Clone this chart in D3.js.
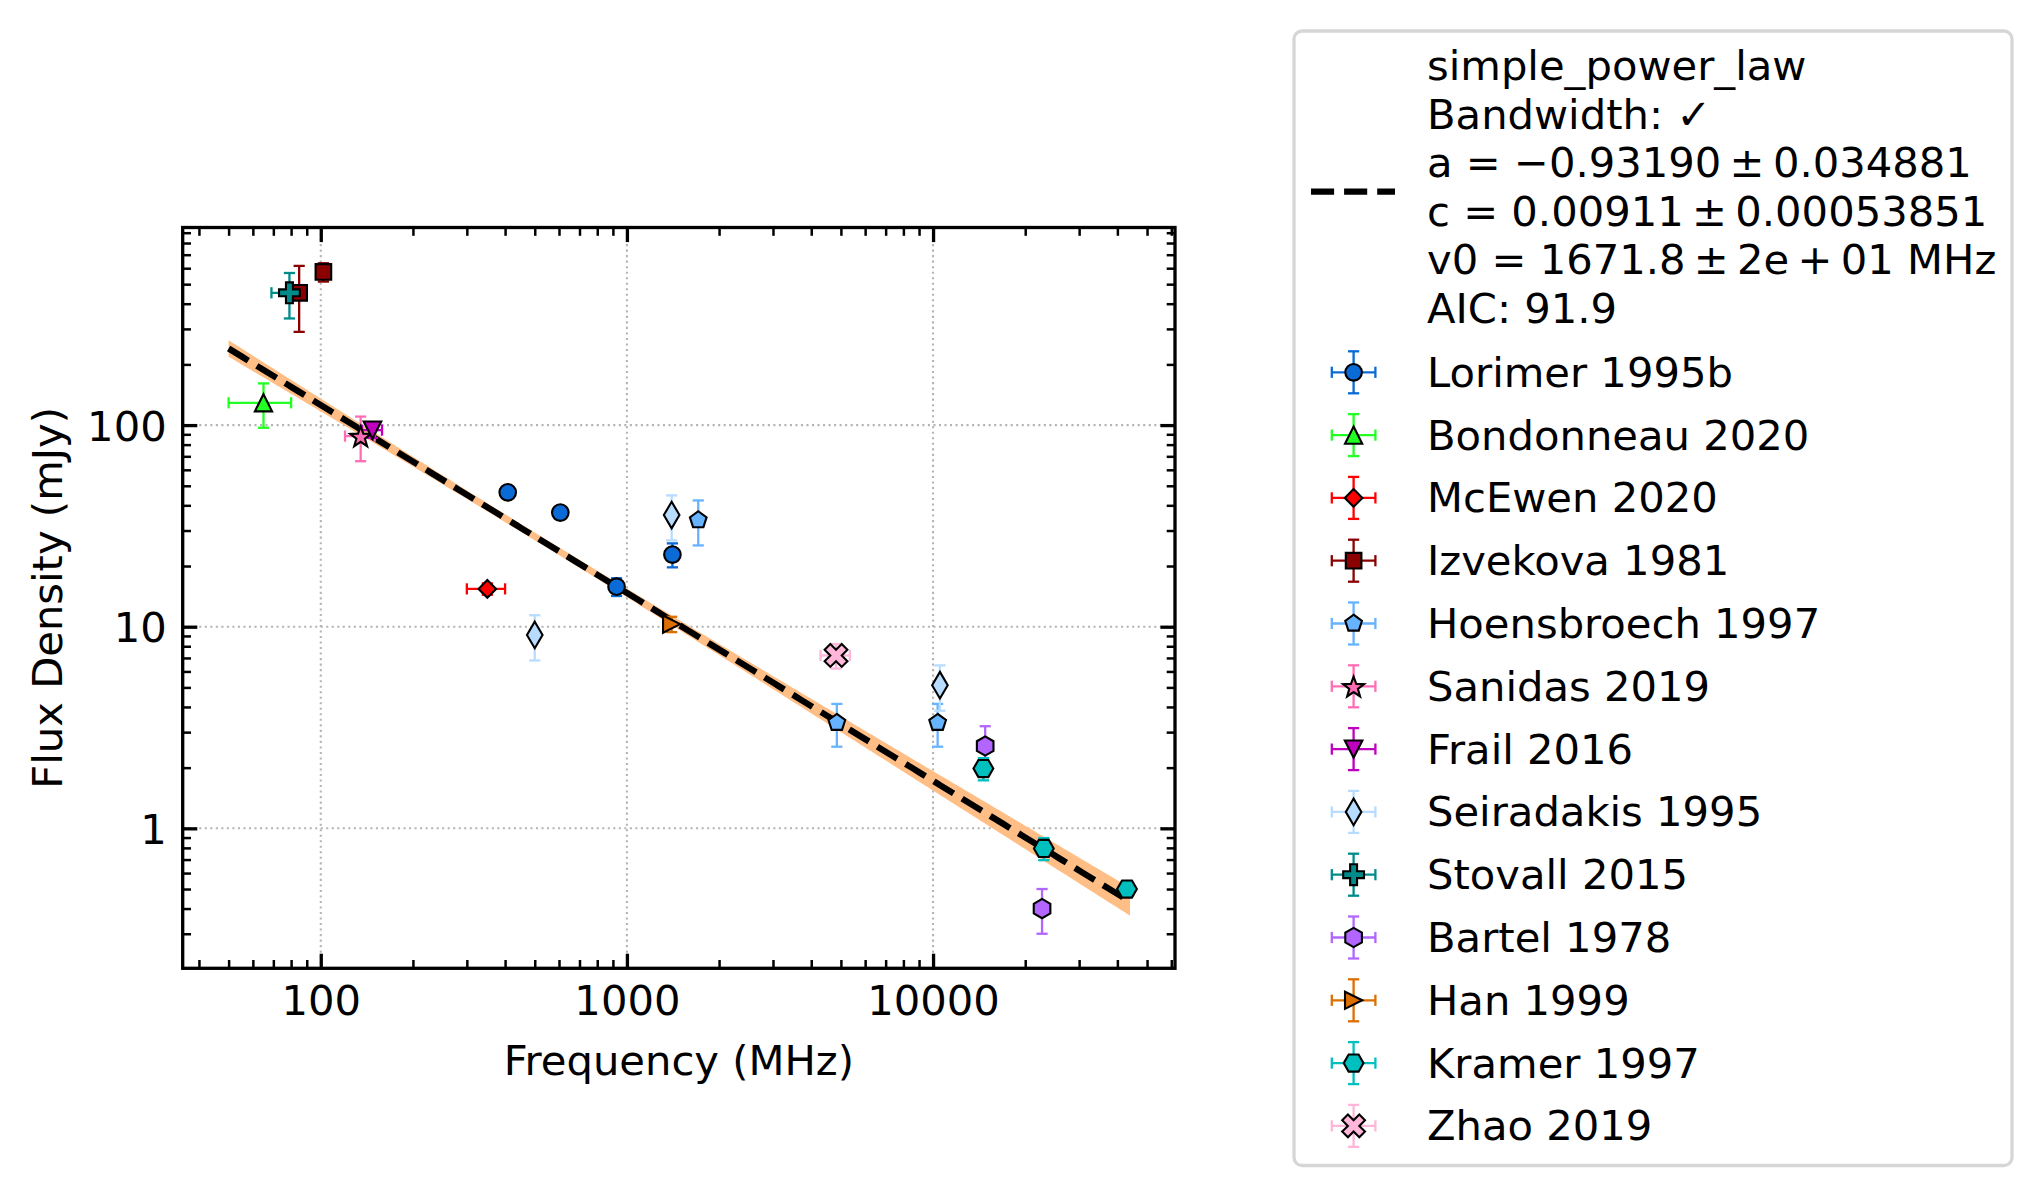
<!DOCTYPE html>
<html>
<head>
<meta charset="utf-8">
<script src="https://cdn.jsdelivr.net/npm/d3@7"></script>
<style>
  body { margin: 0; background: #fff; }
  svg { display: block; font-family: 'DejaVu Sans', sans-serif; }
</style>
</head>
<body>
<svg id="chart" width="2041" height="1196"></svg>
<script>
// each point: [frequency MHz, flux density mJy, half bandwidth MHz, flux error mJy]
const lorimer1995b = [[408, 46.4, 0, 2.4], [606, 36.8, 0, 1.9], [925, 15.8, 0, 1.6], [1408, 22.8, 0, 3.1]];
const bondonneau2020 = [[65, 129, 15, 32]];
const mcewen2020 = [[350, 15.4, 50, 1.0]];
const izvekova1981 = [[85, 453, 0, 163], [102, 575, 0, 60]];
const hoensbroech1997 = [[1710, 33.8, 0, 8.5], [4850, 3.34, 0, 0.8], [10350, 3.34, 0, 0.8]];
const sanidas2019 = [[135, 88.2, 15, 22]];
const frail2016 = [[147.5, 94.4, 11, 8]];
const seiradakis1995 = [[500, 9.1, 0, 2.3], [1400, 35.8, 0, 9], [10530, 5.13, 0, 1.3]];
const stovall2015 = [[79, 453, 10, 115]];
const bartel1978 = [[14800, 2.56, 0, 0.65], [22700, 0.40, 0, 0.1]];
const han1999 = [[1400, 10.3, 0, 0.9]];
const kramer1997 = [[14600, 1.98, 0, 0.25], [23000, 0.795, 0, 0.1], [43000, 0.50, 0, 0.04]];
const zhao2019 = [[4820, 7.2, 530, 1.0]];

const surveyNames = ['Lorimer 1995b', 'Bondonneau 2020', 'McEwen 2020', 'Izvekova 1981',
  'Hoensbroech 1997', 'Sanidas 2019', 'Frail 2016', 'Seiradakis 1995', 'Stovall 2015',
  'Bartel 1978', 'Han 1999', 'Kramer 1997', 'Zhao 2019'];
const surveyData = [lorimer1995b, bondonneau2020, mcewen2020, izvekova1981, hoensbroech1997,
  sanidas2019, frail2016, seiradakis1995, stovall2015, bartel1978, han1999, kramer1997, zhao2019];
const surveyColors = ['#0a6ad6', '#22ff22', '#ff0000', '#8b0000', '#66b3ff', '#ff6eb4', '#bf00bf',
  '#b8dcff', '#008b8b', '#b266ff', '#dd6e00', '#00bfbf', '#ffb6d9'];
const surveyMarkers = ['circle', 'triUp', 'diamond', 'square', 'pentagon', 'star', 'triDown',
  'thinDiamond', 'plus', 'hexV', 'triRight', 'hexF', 'xFilled'];

// simple power law fit (S in Jy, v0 in MHz)
const fitA = -0.9319, fitAErr = 0.034881;
const fitC = 0.00911, fitCErr = 0.00053851;
const fitV0 = 1671.8;
const fitRho = 0.67; // a / c correlation, estimated from the band shape
const fitRange = [50, 44000];
const TS = '\u2009'; // thin space, like mathtext around binary operators
const fitLabel = ['simple_power_law', 'Bandwidth: \u2713',
  'a = \u22120.93190' + TS + '\u00b1' + TS + '0.034881',
  'c = 0.00911' + TS + '\u00b1' + TS + '0.00053851',
  'v0 = 1671.8' + TS + '\u00b1' + TS + '2e' + TS + '+' + TS + '01 MHz',
  'AIC: 91.9'];

const xTickValues = [100, 1000, 10000];
const yTickValues = [1, 10, 100];

const FONT = 41.7;
const PLOT = { left: 182.7, right: 1175, top: 227.5, bottom: 968.3 };

const svg = d3.select('#chart');
svg.append('rect').attr('width', 2041).attr('height', 1196).attr('fill', '#fff');

const x = d3.scaleLog().domain([35.4, 61700]).range([PLOT.left, PLOT.right]);
const y = d3.scaleLog().domain([0.2022, 955]).range([PLOT.bottom, PLOT.top]);

// ---- marker shapes
const poly = (pts) => 'M' + pts.map((p) => p[0].toFixed(2) + ',' + p[1].toFixed(2)).join('L') + 'Z';
const regular = (n, r, rot) =>
  d3.range(n).map((i) => {
    const t = rot + (i * 2 * Math.PI) / n;
    return [r * Math.sin(t), -r * Math.cos(t)];
  });

const markerPath = {
  circle: () => 'M8.3,0A8.3,8.3 0 1 1 -8.3,0A8.3,8.3 0 1 1 8.3,0Z',
  square: () => poly([[-7.8, -7.8], [7.8, -7.8], [7.8, 7.8], [-7.8, 7.8]]),
  triUp: () => poly([[0, -8.6], [8.6, 8.6], [-8.6, 8.6]]),
  triDown: () => poly([[0, 8.6], [8.8, -8.6], [-8.8, -8.6]]),
  triRight: () => poly([[8.6, 0], [-8.6, -8.6], [-8.6, 8.6]]),
  diamond: () => poly([[0, -8.8], [8.8, 0], [0, 8.8], [-8.8, 0]]),
  thinDiamond: () => poly([[0, -13.3], [7.8, 0], [0, 13.3], [-7.8, 0]]),
  pentagon: () => poly(regular(5, 8.8, 0)),
  star: () =>
    poly(d3.range(10).map((i) => {
      const r = i % 2 ? 11 * 0.41 : 11;
      const t = (i * Math.PI) / 5;
      return [r * Math.sin(t), -r * Math.cos(t) + 1.2];
    })),
  hexV: () => poly(regular(6, 9.6, 0)),
  hexF: () => poly(regular(6, 9.9, Math.PI / 6)),
  plus: () => {
    const a = 10.4, b = a / 3;
    return poly([[-b, -a], [b, -a], [b, -b], [a, -b], [a, b], [b, b], [b, a], [-b, a], [-b, b], [-a, b], [-a, -b], [-b, -b]]);
  },
  xFilled: () => {
    const s = 11.4 / 2;
    return poly([[-1, -2], [0, -1], [1, -2], [2, -1], [1, 0], [2, 1], [1, 2], [0, 1], [-1, 2], [-2, 1], [-1, 0], [-2, -1]]
      .map((p) => [p[0] * s, p[1] * s]));
  },
};

// ---- grid
const grid = svg.append('g')
  .attr('stroke', '#b4b4b4')
  .attr('stroke-width', 2.08)
  .attr('stroke-dasharray', '2.08 3.44');
grid.selectAll('.gx').data(xTickValues).join('line')
  .attr('x1', (d) => x(d)).attr('x2', (d) => x(d))
  .attr('y1', PLOT.top).attr('y2', PLOT.bottom);
grid.selectAll('.gy').data(yTickValues).join('line')
  .attr('y1', (d) => y(d)).attr('y2', (d) => y(d))
  .attr('x1', PLOT.left).attr('x2', PLOT.right);

// ---- fit band and line
const fitFlux = (v) => fitC * 1000 * Math.pow(v / fitV0, fitA);
const sc = fitCErr / fitC / Math.LN10;
const fitSigma = (v) => {
  const L = Math.log10(v / fitV0);
  return Math.sqrt(sc * sc + fitAErr * fitAErr * L * L + 2 * fitRho * sc * fitAErr * L);
};
const fitGrid = d3.range(0, 201).map((i) => fitRange[0] * Math.pow(fitRange[1] / fitRange[0], i / 200));

svg.append('path')
  .datum(fitGrid)
  .attr('fill', '#ffbe85')
  .attr('d', d3.area()
    .x((v) => x(v))
    .y0((v) => y(fitFlux(v) * Math.pow(10, -fitSigma(v))))
    .y1((v) => y(fitFlux(v) * Math.pow(10, fitSigma(v)))));

svg.append('path')
  .datum(fitGrid)
  .attr('fill', 'none')
  .attr('stroke', '#000')
  .attr('stroke-width', 6.25)
  .attr('stroke-dasharray', '23.1 10')
  .attr('d', d3.line().x((v) => x(v)).y((v) => y(fitFlux(v))));

// ---- error bars (drawn below all markers)
const CAP = 5.6;
const EW = 2.3;
function drawErrorBars(g, color, cx, cy, x0, x1, y0, y1) {
  const s = g.append('g').attr('stroke', color).attr('stroke-width', EW).attr('fill', 'none');
  if (y0 !== y1) {
    s.append('line').attr('x1', cx).attr('x2', cx).attr('y1', y0).attr('y2', y1);
    [y0, y1].forEach((yy) => s.append('line').attr('x1', cx - CAP).attr('x2', cx + CAP).attr('y1', yy).attr('y2', yy));
  }
  if (x0 !== x1) {
    s.append('line').attr('y1', cy).attr('y2', cy).attr('x1', x0).attr('x2', x1);
    [x0, x1].forEach((xx) => s.append('line').attr('y1', cy - CAP).attr('y2', cy + CAP).attr('x1', xx).attr('x2', xx));
  }
}

const barLayer = svg.append('g');
const markLayer = svg.append('g');

surveyData.forEach((pts, si) => {
  const color = surveyColors[si];
  pts.forEach(([f, s, df, ds]) => {
    drawErrorBars(barLayer, color, x(f), y(s),
      df ? x(f - df) : 0, df ? x(f + df) : 0,
      ds ? y(s - ds) : 0, ds ? y(s + ds) : 0);
  });
  markLayer.append('g').selectAll('path').data(pts).join('path')
    .attr('transform', (d) => `translate(${x(d[0])},${y(d[1])})`)
    .attr('d', markerPath[surveyMarkers[si]]())
    .attr('fill', color)
    .attr('stroke', '#000')
    .attr('stroke-width', 2.1)
    .attr('stroke-linejoin', 'miter');
});

// ---- axes
function styleAxis(g, width) {
  g.select('.domain').remove();
  g.selectAll('.tick line').attr('stroke', '#000').attr('stroke-width', width);
  g.selectAll('text').attr('font-family', 'DejaVu Sans').attr('font-size', FONT).attr('fill', '#000');
}
const xMinor = x.ticks().filter((d) => !xTickValues.includes(d));
const yMinor = y.ticks().filter((d) => !yTickValues.includes(d));
const fmt = d3.format('d');

[['bottom', PLOT.bottom], ['top', PLOT.top]].forEach(([side, pos]) => {
  const mk = side === 'bottom' ? d3.axisBottom : d3.axisTop;
  const major = svg.append('g').attr('transform', `translate(0,${pos})`)
    .call(mk(x).tickValues(xTickValues).tickSize(-14.6).tickPadding(17)
      .tickFormat(side === 'bottom' ? fmt : () => ''));
  styleAxis(major, 3.3);
  const minor = svg.append('g').attr('transform', `translate(0,${pos})`)
    .call(mk(x).tickValues(xMinor).tickSize(-8.3).tickFormat(() => ''));
  styleAxis(minor, 2.5);
});
[['left', PLOT.left], ['right', PLOT.right]].forEach(([side, pos]) => {
  const mk = side === 'left' ? d3.axisLeft : d3.axisRight;
  const major = svg.append('g').attr('transform', `translate(${pos},0)`)
    .call(mk(y).tickValues(yTickValues).tickSize(-14.6).tickPadding(16)
      .tickFormat(side === 'left' ? fmt : () => ''));
  styleAxis(major, 3.3);
  major.selectAll('text').attr('dy', '0.36em');
  const minor = svg.append('g').attr('transform', `translate(${pos},0)`)
    .call(mk(y).tickValues(yMinor).tickSize(-8.3).tickFormat(() => ''));
  styleAxis(minor, 2.5);
});

svg.append('rect')
  .attr('x', PLOT.left).attr('y', PLOT.top)
  .attr('width', PLOT.right - PLOT.left).attr('height', PLOT.bottom - PLOT.top)
  .attr('fill', 'none').attr('stroke', '#000').attr('stroke-width', 3.3);

svg.append('text')
  .attr('x', (PLOT.left + PLOT.right) / 2).attr('y', 1075)
  .attr('text-anchor', 'middle').attr('font-size', FONT)
  .text('Frequency (MHz)');
svg.append('text')
  .attr('transform', `translate(62,${(PLOT.top + PLOT.bottom) / 2}) rotate(-90)`)
  .attr('text-anchor', 'middle').attr('font-size', FONT)
  .text('Flux Density (mJy)');

// ---- legend
const legend = svg.append('g');
legend.append('rect')
  .attr('x', 1294).attr('y', 31).attr('width', 718).attr('height', 1134.5)
  .attr('rx', 8).attr('fill', '#fff')
  .attr('stroke', '#d6d6d6').attr('stroke-width', 3.3);

legend.append('line')
  .attr('x1', 1311).attr('x2', 1395).attr('y1', 191.5).attr('y2', 191.5)
  .attr('stroke', '#000').attr('stroke-width', 6.25).attr('stroke-dasharray', '23.1 10');
legend.append('g').selectAll('text').data(fitLabel).join('text')
  .attr('x', 1427).attr('y', (d, i) => 80 + i * 48.55)
  .attr('font-size', FONT)
  .text((d) => d);

const ROW0 = 372.3, ROWH = 62.8, HX = 1353.6;
surveyNames.forEach((name, i) => {
  const cy = ROW0 + i * ROWH;
  drawErrorBars(legend, surveyColors[i], HX, cy, HX - 21.8, HX + 21.8, cy - 21, cy + 21);
  legend.append('path')
    .attr('transform', `translate(${HX},${cy})`)
    .attr('d', markerPath[surveyMarkers[i]]())
    .attr('fill', surveyColors[i])
    .attr('stroke', '#000').attr('stroke-width', 2.1);
  legend.append('text')
    .attr('x', 1427).attr('y', cy + 14.5)
    .attr('font-size', FONT)
    .text(name);
});
</script>
</body>
</html>
